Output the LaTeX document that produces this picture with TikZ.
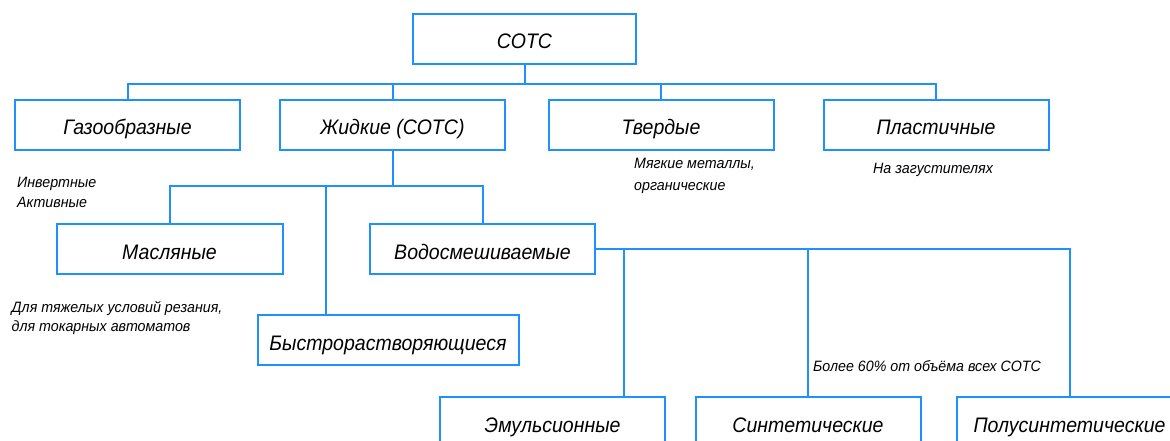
\documentclass[tikz,border=0pt]{standalone}
\usepackage{fontspec}
\newfontfamily\boxfont{Liberation Sans}[FakeStretch=0.93]
\newfontfamily\notefont{Liberation Sans}[FakeStretch=0.95]
\definecolor{lineblue}{RGB}{30,144,255}
\tikzset{
  box/.style={draw=lineblue, line width=2pt, minimum height=50pt, minimum width=225pt,
    inner sep=0pt, text height=21pt, text depth=1pt,
    font=\boxfont\itshape\fontsize{21}{24}\selectfont, text=black},
  conn/.style={draw=lineblue, line width=2pt},
  note/.style={anchor=base west, inner sep=0pt, font=\notefont\itshape\fontsize{15}{17}\selectfont, text=black}
}
\begin{document}
\begin{tikzpicture}[x=1pt, y=-1pt]
\useasboundingbox (0,0) rectangle (1170,441);
% boxes
\node[box, minimum width=223pt] (cotc) at (524.5,39) {СОТС};
\node[box] (gas) at (127.5,125) {Газообразные};
\node[box] (liq) at (392.5,125) {Жидкие (СОТС)};
\node[box] (solid) at (661,125) {Твердые};
\node[box] (plast) at (936,125) {Пластичные};
\node[box, minimum width=226pt] (oil) at (169.5,249) {Масляные};
\node[box] (water) at (482.5,249) {Водосмешиваемые};
\node[box, minimum width=261pt] (fast) at (388,340) {Быстрорастворяющиеся};
\node[box] (emul) at (552.5,422) {Эмульсионные};
\node[box] (synth) at (808,422) {Синтетические};
\node[box] (semi) at (1069.5,422) {Полусинтетические};
% connectors level 1
\coordinate (j1) at (524.5,84);
\draw[conn] (cotc.south) -- (j1);
\draw[conn] (gas.north) |- (j1) -| (plast.north);
\draw[conn] (liq.north) -- (liq.north |- j1);
\draw[conn] (solid.north) -- (solid.north |- j1);
% level 2
\coordinate (j2) at (392.5,186);
\coordinate (j2f) at (326,186);
\draw[conn] (liq.south) -- (j2);
\draw[conn] (oil.north) |- (j2) -| (water.north);
\draw[conn] (j2f) -- (j2f |- fast.north);
% level 3
\coordinate (j3) at (1069.5,249);
\coordinate (j3e) at (624,249);
\draw[conn] (water.east) -- (j3) -- (semi.north);
\draw[conn] (j3e) -- (j3e |- emul.north);
\draw[conn] (synth.north) -- (synth.north |- j3);
% notes
\node[note] (n1) at (17,187) {Инвертные};
\node[note] (n2) at (17,207) {Активные};
\node[note] (n3) at (634,168) {Мягкие металлы,};
\node[note] (n4) at (634,190) {органические};
\node[note] (n5) at (873,174) {На загустителях};
\node[note] (n6) at (11.5,312) {Для тяжелых условий резания,};
\node[note] (n7) at (11.5,331) {для токарных автоматов};
\node[note] (n8) at (813,371) {Более 60\% от объёма всех СОТС};
\end{tikzpicture}
\end{document}
